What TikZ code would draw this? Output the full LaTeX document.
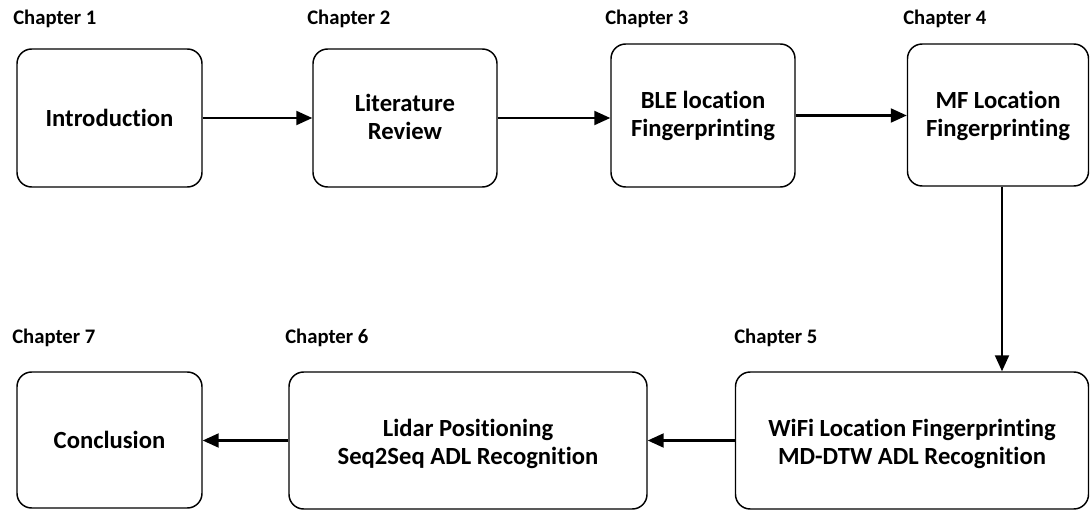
\documentclass[tikz,border=0pt]{standalone}
\usepackage{fontspec}
\setmainfont{Carlito}[Ligatures=NoCommon]
\usetikzlibrary{arrows.meta}
% two centred lines, lowered by the optional amount without changing the box size
\newcommand\boxlines[2][0pt]{\raisebox{#1}[\height][\depth]{\begin{tabular}{@{}c@{}}#2\end{tabular}}}
\begin{document}
\begin{tikzpicture}[x=0.75pt,y=-0.75pt,
  chapbox/.style 2 args={draw, line width=1.1pt, rounded corners=11pt,
    minimum width=#1*0.75pt, minimum height=#2*0.75pt, inner sep=0pt,
    font=\fontsize{18.5}{21}\selectfont\bfseries},
  chaplabel/.style={anchor=base west, inner sep=0pt,
    font=\fontsize{15.5}{18}\selectfont\bfseries},
  flow/.style={line width=1.6pt, -{Triangle[length=12pt,width=10.5pt]}}]
\useasboundingbox (0,0) rectangle (1090,510);

% chapter boxes, top row left to right
\node[chapbox={185}{138}] (intro) at (109.5,118) {Introduction};
\node[chapbox={184}{138}] (lit)   at (405,118)   {\boxlines[-1.8pt]{Literature\\Review}};
\node[chapbox={184}{143}] (ble)   at (703,115.5) {\boxlines[-1.2pt]{BLE location\\Fingerprinting}};
\node[chapbox={181}{142}] (mf)    at (998,115)   {\boxlines[-1.2pt]{MF Location\\Fingerprinting}};

% chapter boxes, bottom row right to left
\node[chapbox={353}{137}] (wifi)  at (912,440.5) {\boxlines[-3.6pt]{WiFi Location Fingerprinting\\MD-DTW ADL Recognition}};
\node[chapbox={358}{137}] (lidar) at (468,440.5) {\boxlines[-3.6pt]{Lidar Positioning\\Seq2Seq ADL Recognition}};
\node[chapbox={185}{136}] (concl) at (109.5,440) {Conclusion};

% chapter labels
\node[chaplabel] (c1) at (13,25)   {Chapter 1};
\node[chaplabel] (c2) at (307,25)  {Chapter 2};
\node[chaplabel] (c3) at (605,25)  {Chapter 3};
\node[chaplabel] (c4) at (903,25)  {Chapter 4};
\node[chaplabel] (c5) at (734,343) {Chapter 5};
\node[chaplabel] (c6) at (285,343) {Chapter 6};
\node[chaplabel] (c7) at (12,343)  {Chapter 7};

% reading order
\draw[flow] (intro.east) -- (intro.east -| lit.west);
\draw[flow] (lit.east) -- (lit.east -| ble.west);
\draw[flow] (ble.east) -- (ble.east -| mf.west);
\draw[flow] ([xshift=3pt]mf.south) -- ([xshift=3pt]mf.south |- wifi.north);
\draw[flow] (wifi.west) -- (wifi.west -| lidar.east);
\draw[flow] (lidar.west) -- (lidar.west -| concl.east);
\end{tikzpicture}
\end{document}
